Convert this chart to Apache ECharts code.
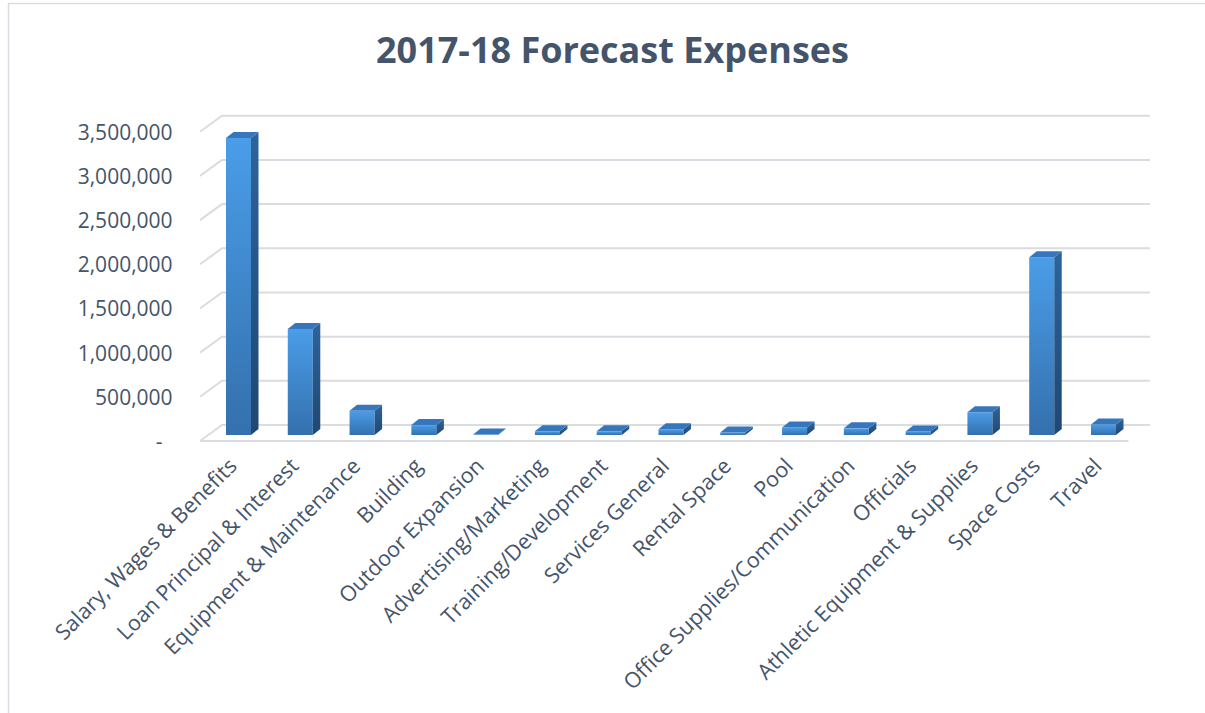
<!DOCTYPE html>
<html>
<head>
<meta charset="utf-8">
<script src="https://cdn.jsdelivr.net/npm/echarts@6/dist/echarts.min.js"></script>
<style>html,body{margin:0;padding:0;background:#fff;}#chart{width:1205px;height:713px;}</style>
</head>
<body>
<div id="chart"></div>
<script>
const categories = ["Salary, Wages & Benefits","Loan Principal & Interest","Equipment & Maintenance","Building","Outdoor Expansion","Advertising/Marketing","Training/Development","Services General","Rental Space","Pool","Office Supplies/Communication","Officials","Athletic Equipment & Supplies","Space Costs","Travel"];
const expenses = [3360000, 1200000, 273000, 112000, 5000, 42000, 42000, 65000, 28000, 85000, 75000, 40000, 257000, 2010000, 120000];
const yTicks = [0, 500000, 1000000, 1500000, 2000000, 2500000, 3000000, 3500000];
const titleText = "2017-18 Forecast Expenses";

const FONT = "'Open Sans', 'Noto Sans', sans-serif";
const TXT = '#44546a';
const chart = echarts.init(document.getElementById('chart'), null, {renderer: 'svg'});

function gridRender(params, api) {
  const cs = params.coordSys;
  const y = api.coord([0, api.value(1)])[1];
  const style = {stroke: '#d9dce1', lineWidth: 2, fill: null};
  const children = [{
    type: 'polyline', shape: {points: [[cs.x - 7.6, y], [cs.x + 14.4, y - 16], [cs.x + cs.width + 15.6, y - 16]]}, style
  }];
  if (api.value(1) === 0) {
    children.push({type: 'line', shape: {x1: cs.x - 7.6, y1: y, x2: cs.x + cs.width - 6, y2: y}, style});
  }
  return {type: 'group', children};
}

function barRender(params, api) {
  const i = api.value(0), v = api.value(1);
  const top = api.coord([i, v]);
  const base = api.coord([i, 0]);
  const bw = api.size([1, 0])[0] * 0.405;
  const dx = 7.5, dy = 6, sh = 6;
  const x0 = top[0] - bw / 2, x1 = top[0] + bw / 2;
  const yT = top[1] - sh, yB = base[1] - sh;
  return {type: 'group', children: [
    {type: 'rect', shape: {x: x0, y: yT, width: bw, height: Math.max(yB - yT, 0)},
     style: {fill: new echarts.graphic.LinearGradient(0, 0, 0, 1, [{offset: 0, color: '#4a9de8'}, {offset: 1, color: '#3470ad'}])}},
    {type: 'polygon', shape: {points: [[x1, yT], [x1 + dx, yT - dy], [x1 + dx, yB - dy], [x1, yB]]},
     style: {fill: new echarts.graphic.LinearGradient(0, 0, 0, 1, [{offset: 0, color: '#2d649c'}, {offset: 1, color: '#1f4772'}])}},
    {type: 'polygon', shape: {points: [[x0, yT], [x0 + dx, yT - dy], [x1 + dx, yT - dy], [x1, yT]]},
     style: {fill: '#3676bc'}}
  ]};
}

chart.setOption({
  animation: false,
  backgroundColor: '#fff',
  graphic: [{type: 'rect', shape: {x: 8.5, y: 3.5, width: 1300, height: 800}, style: {fill: null, stroke: '#d9dde3', lineWidth: 1.5}, z: -10}],
  title: {text: titleText, left: 371, top: 26, textStyle: {fontFamily: FONT, fontSize: 36, fontWeight: 'bold', color: TXT}},
  grid: {left: 207.6, right: 70.6, top: 131.7, bottom: 272},
  xAxis: {type: 'category', data: categories,
    axisLine: {show: false}, axisTick: {show: false}, splitLine: {show: false},
    axisLabel: {interval: 0, rotate: 45, margin: 14, padding: [0, 9, 0, 0], fontFamily: FONT, fontSize: 21.5, color: TXT}},
  yAxis: {type: 'value', min: 0, max: 3500000, interval: 500000,
    axisLine: {show: false}, axisTick: {show: false}, splitLine: {show: false},
    axisLabel: {margin: 35, fontFamily: FONT, fontSize: 21, color: TXT,
      formatter: v => v === 0 ? '{z|-}' : v.toLocaleString('en-US'),
      rich: {z: {fontFamily: FONT, fontSize: 21, color: TXT, padding: [0, 10, 0, 0]}}}},
  series: [
    {type: 'custom', renderItem: gridRender, data: yTicks.map(v => [0, v]), z: 1, silent: true},
    {type: 'custom', renderItem: barRender, data: expenses.map((v, i) => [i, v]), z: 5}
  ]
});
</script>
</body>
</html>
